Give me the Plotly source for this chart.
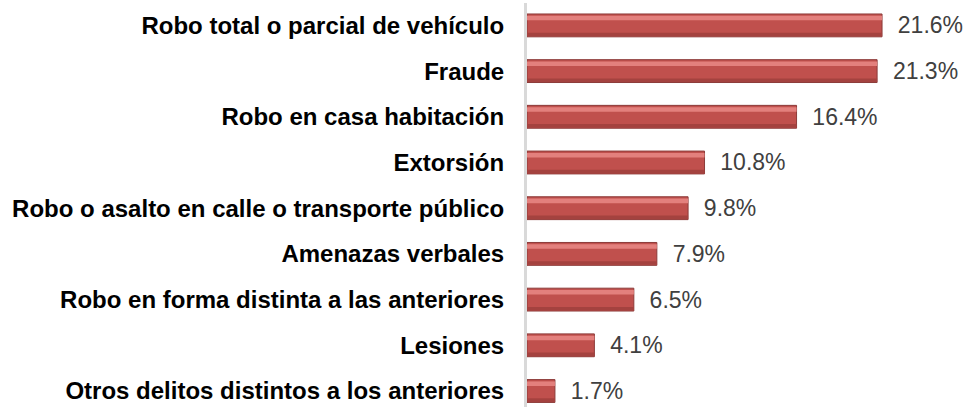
import plotly.graph_objects as go

categories = [
    "Robo total o parcial de vehículo",
    "Fraude",
    "Robo en casa habitación",
    "Extorsión",
    "Robo o asalto en calle o transporte público",
    "Amenazas verbales",
    "Robo en forma distinta a las anteriores",
    "Lesiones",
    "Otros delitos distintos a los anteriores",
]
values = [21.6, 21.3, 16.4, 10.8, 9.8, 7.9, 6.5, 4.1, 1.7]
value_labels = ["21.6%", "21.3%", "16.4%", "10.8%", "9.8%", "7.9%", "6.5%", "4.1%", "1.7%"]

idx = list(range(len(categories)))

fig = go.Figure()
# main bar body
fig.add_trace(go.Bar(
    x=values, y=idx, orientation="h",
    width=0.5, offset=-0.25,
    marker=dict(color="#C0504D", line=dict(color="#8C3B39", width=1)),
    text=["  " + t for t in value_labels], textposition="outside",
    constraintext="none",
    textfont=dict(family="Liberation Sans, Arial, sans-serif", size=23, color="#404040"),
    cliponaxis=False, hoverinfo="skip", showlegend=False,
))
# top highlight
fig.add_trace(go.Bar(
    x=values, y=idx, orientation="h",
    width=0.1, offset=-0.21,
    marker=dict(color="#E3807D", line=dict(width=0)),
    hoverinfo="skip", showlegend=False,
))
# bottom shade
fig.add_trace(go.Bar(
    x=values, y=idx, orientation="h",
    width=0.08, offset=0.16,
    marker=dict(color="#A4423F", line=dict(width=0)),
    hoverinfo="skip", showlegend=False,
))

fig.update_layout(
    width=968, height=407,
    margin=dict(l=527, r=0, t=3, b=0),
    barmode="overlay",
    paper_bgcolor="white", plot_bgcolor="white",
    xaxis=dict(range=[0, 26.83], visible=False, fixedrange=True),
    yaxis=dict(
        range=[8.35, -0.49],
        tickmode="array", tickvals=idx, ticktext=categories,
        tickfont=dict(family="Liberation Sans, Arial, sans-serif", size=24, color="black", weight="bold"),
        showline=True, linecolor="#D9D9D9", linewidth=3,
        showgrid=False, zeroline=False, ticks="",
        ticklabelstandoff=15, fixedrange=True,
    ),
)

fig.write_html("out.html", config={"displayModeBar": False},
               post_script="document.body.style.margin='0';")
